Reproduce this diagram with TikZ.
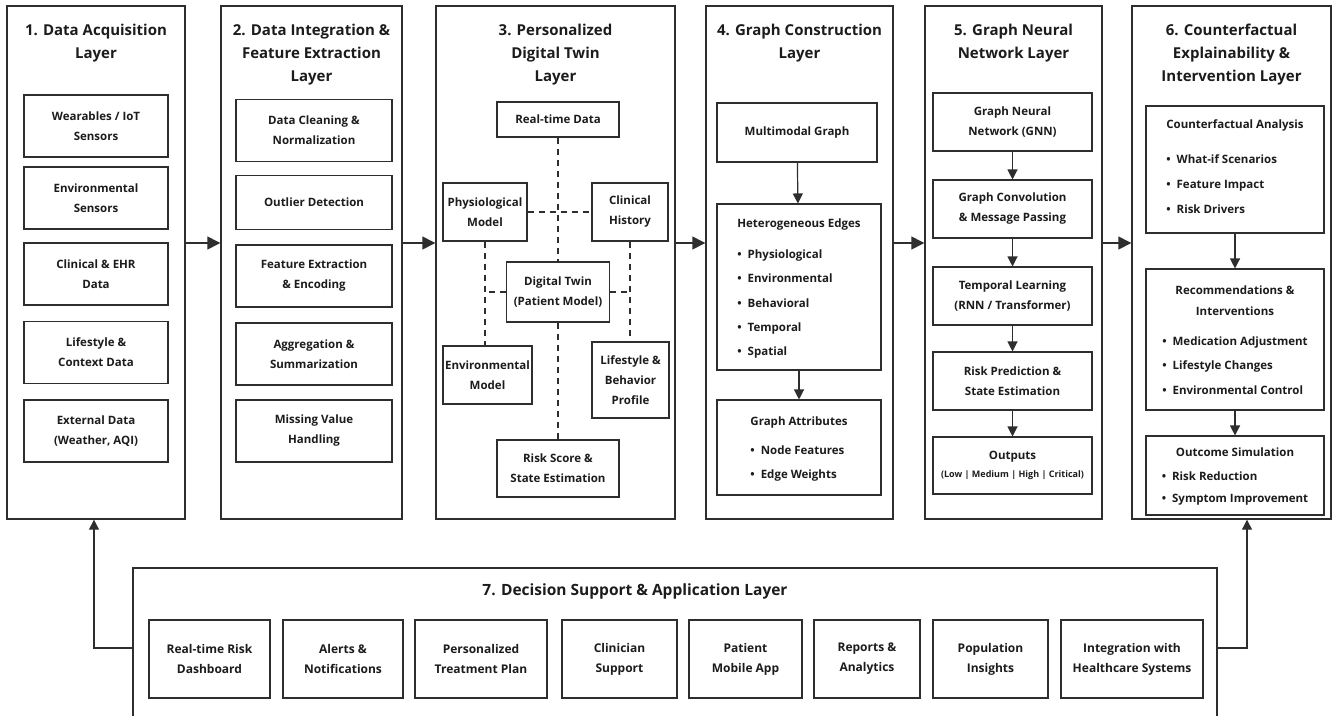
\documentclass[tikz,border=0pt]{standalone}
\usepackage{fontspec}
\setmainfont{Open Sans}
\usetikzlibrary{arrows.meta,positioning}
\definecolor{ink}{HTML}{2E2E2E}
\definecolor{txt}{HTML}{1C1C1C}
\tikzset{
  layer/.style={draw=ink, line width=1.4pt, minimum width=#1, minimum height=513, inner sep=0pt},
  ttl/.style={anchor=north, align=center, text=txt, inner sep=0pt, font=\bfseries\fontsize{15}{23}\selectfont},
  box/.style={draw=ink, line width=1.1pt, align=center, text=txt, inner sep=2pt, font=\bfseries\fontsize{11.5}{20}\selectfont},
  link/.style={draw=ink, line width=1.2pt, dash pattern=on 6pt off 5pt},
  flow/.style={draw=ink, line width=1.2pt, -{Triangle[length=10pt,width=10pt]}},
  big/.style={draw=ink, line width=1.4pt, -{Triangle[length=13pt,width=13pt]}},
  c1/.style={box, minimum width=144, minimum height=62},
  c2/.style={box, minimum width=156, minimum height=62},
  c5/.style={box, minimum width=159, minimum height=58},
  c7/.style={box, minimum height=78, font=\bfseries\fontsize{12}{20}\selectfont}
}
\newcommand{\bl}[1]{\textbullet\hspace{6pt}#1}
\begin{document}
\begin{tikzpicture}[x=1pt, y=-1pt]
\fill[white] (0,0) rectangle (1332,715);
\useasboundingbox (0,0) rectangle (1332,715);
% layers
\node[layer=178] (l1) at (96,262.5) {};
\node[layer=181] (l2) at (311.5,262.5) {};
\node[layer=239] (l3) at (555.5,262.5) {};
\node[layer=187] (l4) at (799.5,262.5) {};
\node[layer=177] (l5) at (1013.5,262.5) {};
\node[layer=199] (l6) at (1231.5,262.5) {};
\node[draw=ink, line width=1.4pt, minimum width=1084, minimum height=160] (l7) at (675,648) {};
\node[ttl, below=18.5pt of l1.north] (t1) {1. Data Acquisition\\Layer};
\node[ttl, below=18.5pt of l2.north] (t2) {2. Data Integration \&\\Feature Extraction\\Layer};
\node[ttl, below=18.5pt of l3.north] (t3) {3. Personalized\\Digital Twin\\Layer};
\node[ttl, below=18.5pt of l4.north] (t4) {4. Graph Construction\\Layer};
\node[ttl, below=18.5pt of l5.north] (t5) {5. Graph Neural\\Network Layer};
\node[ttl, below=18.5pt of l6.north] (t6) {6. Counterfactual\\Explainability \&\\Intervention Layer};
\node[ttl, anchor=center, font=\bfseries\fontsize{15.5}{23}\selectfont] (t7) at (635,591) {7. Decision Support \& Application Layer};

% 1. acquisition
\node[c1] (a1) at (96,126) {Wearables / IoT\\Sensors};
\node[c1] (a2) at (96,198) {Environmental\\Sensors};
\node[c1] (a3) at (96,274) {Clinical \& EHR\\Data};
\node[c1] (a4) at (96,352.5) {Lifestyle \&\\Context Data};
\node[c1] (a5) at (96,431) {External Data\\(Weather, AQI)};

% 2. integration
\node[c2] (b1) at (314,130.5) {Data Cleaning \&\\Normalization};
\node[c2, minimum height=54] (b2) at (314,202.5) {Outlier Detection};
\node[c2] (b3) at (314,276) {Feature Extraction\\\& Encoding};
\node[c2] (b4) at (314,354) {Aggregation \&\\Summarization};
\node[c2] (b5) at (314,431) {Missing Value\\Handling};

% 3. digital twin
\node[box, minimum width=122, minimum height=35] (rt) at (558,119.5) {Real-time Data};
\node[box, minimum width=84, minimum height=58] (ph) at (485,212) {Physiological\\Model};
\node[box, minimum width=76, minimum height=58] (cl) at (630,212) {Clinical\\History};
\node[box, minimum width=103, minimum height=60] (dt) at (558,292) {Digital Twin\\(Patient Model)};
\node[box, minimum width=89, minimum height=58] (en) at (487.5,375) {Environmental\\Model};
\node[box, minimum width=77, minimum height=76] (lf) at (630.5,380) {Lifestyle \&\\Behavior\\Profile};
\node[box, minimum width=122, minimum height=57] (rk) at (558,468.5) {Risk Score \&\\State Estimation};
\draw[link] (rt.south) -- (rt.south |- dt.north);
\draw[link] (dt.south) -- (dt.south |- rk.north);
\draw[link] (ph.east) -- (cl.west);
\draw[link] (ph.south) -- (ph.south |- en.north);
\draw[link] (cl.south) -- (cl.south |- lf.north);
\draw[link] (dt.west) -- (dt.west -| ph.south);
\draw[link] (dt.east) -- (dt.east -| cl.south);

% 4. graph construction
\node[box, minimum width=160, minimum height=59] (mm) at (797,132.5) {Multimodal Graph};
\node[box, minimum width=164, minimum height=166] (he) at (799,287) {\renewcommand\arraystretch{1.22}\begin{tabular}{@{}l@{}}
  \multicolumn{1}{@{}c@{}}{Heterogeneous Edges}\\[6pt]
  \bl{Physiological}\\ \bl{Environmental}\\ \bl{Behavioral}\\ \bl{Temporal}\\ \bl{Spatial}
\end{tabular}};
\node[box, minimum width=164, minimum height=95] (ga) at (799,447.5) {\renewcommand\arraystretch{1.2}\begin{tabular}{@{}l@{}}
  \multicolumn{1}{@{}c@{}}{Graph Attributes}\\[5pt]
  \bl{Node Features}\\ \bl{Edge Weights}
\end{tabular}};
\draw[flow] (mm) -- (he);
\draw[flow] (he) -- (ga);

% 5. gnn
\node[c5] (g1) at (1012.5,122) {Graph Neural\\Network (GNN)};
\node[c5] (g2) at (1012.5,209) {Graph Convolution\\\& Message Passing};
\node[c5] (g3) at (1012.5,296) {Temporal Learning\\(RNN / Transformer)};
\node[c5] (g4) at (1012.5,381) {Risk Prediction \&\\State Estimation};
\node[c5, minimum height=57] (g5) at (1012.5,465.5) {Outputs\\[-2pt]{\fontsize{9}{17}\selectfont(Low | Medium | High | Critical)}};
\foreach \i/\j in {g1/g2,g2/g3,g3/g4,g4/g5}
  \draw[flow] (\i) -- (\j);

% 6. counterfactual
\node[box, minimum width=178, minimum height=127] (ca) at (1235,169.5) {\raisebox{4pt}[\height][\depth]{\renewcommand\arraystretch{1.25}\begin{tabular}{@{}l@{}}
  \multicolumn{1}{@{}c@{}}{Counterfactual Analysis}\\[10pt]
  \bl{What-if Scenarios}\\ \bl{Feature Impact}\\ \bl{Risk Drivers}
\end{tabular}}};
\node[box, minimum width=178, minimum height=141] (rc) at (1235,339.5) {\renewcommand\arraystretch{1.22}\begin{tabular}{@{}l@{}}
  \multicolumn{1}{@{}c@{}}{Recommendations \&}\\[-3pt]
  \multicolumn{1}{@{}c@{}}{Interventions}\\[5pt]
  \bl{Medication Adjustment}\\ \bl{Lifestyle Changes}\\ \bl{Environmental Control}
\end{tabular}};
\node[box, minimum width=178, minimum height=79] (os) at (1235,475.5) {\renewcommand\arraystretch{1.1}\begin{tabular}{@{}l@{}}
  \multicolumn{1}{@{}c@{}}{Outcome Simulation}\\[2pt]
  \bl{Risk Reduction}\\ \bl{Symptom Improvement}
\end{tabular}};
\draw[flow] (ca) -- (rc);
\draw[flow] (rc) -- (os);

% 7. decision support
\node[c7, minimum width=121] (d1) at (209.5,659) {Real-time Risk\\Dashboard};
\node[c7, minimum width=120] (d2) at (343,659) {Alerts \&\\Notifications};
\node[c7, minimum width=132] (d3) at (481,659) {Personalized\\Treatment Plan};
\node[c7, minimum width=115] (d4) at (619.5,659) {Clinician\\Support};
\node[c7, minimum width=113] (d5) at (745.5,659) {Patient\\Mobile App};
\node[c7, minimum width=106] (d6) at (867,659) {Reports \&\\Analytics};
\node[c7, minimum width=115] (d7) at (990.5,659) {Population\\Insights};
\node[c7, minimum width=142] (d8) at (1132,659) {Integration with\\Healthcare Systems};

% layer to layer
\coordinate (m) at (0,243);
\foreach \i/\j in {l1/l2,l2/l3,l3/l4,l4/l5,l5/l6}
  \draw[big] (\i.east |- m) -- (\j.west |- m);
\draw[flow] (l7.west) -| ([xshift=-2pt]l1.south);
\draw[flow] (l7.east) -| ([xshift=15.5pt]l6.south);
\end{tikzpicture}
\end{document}
